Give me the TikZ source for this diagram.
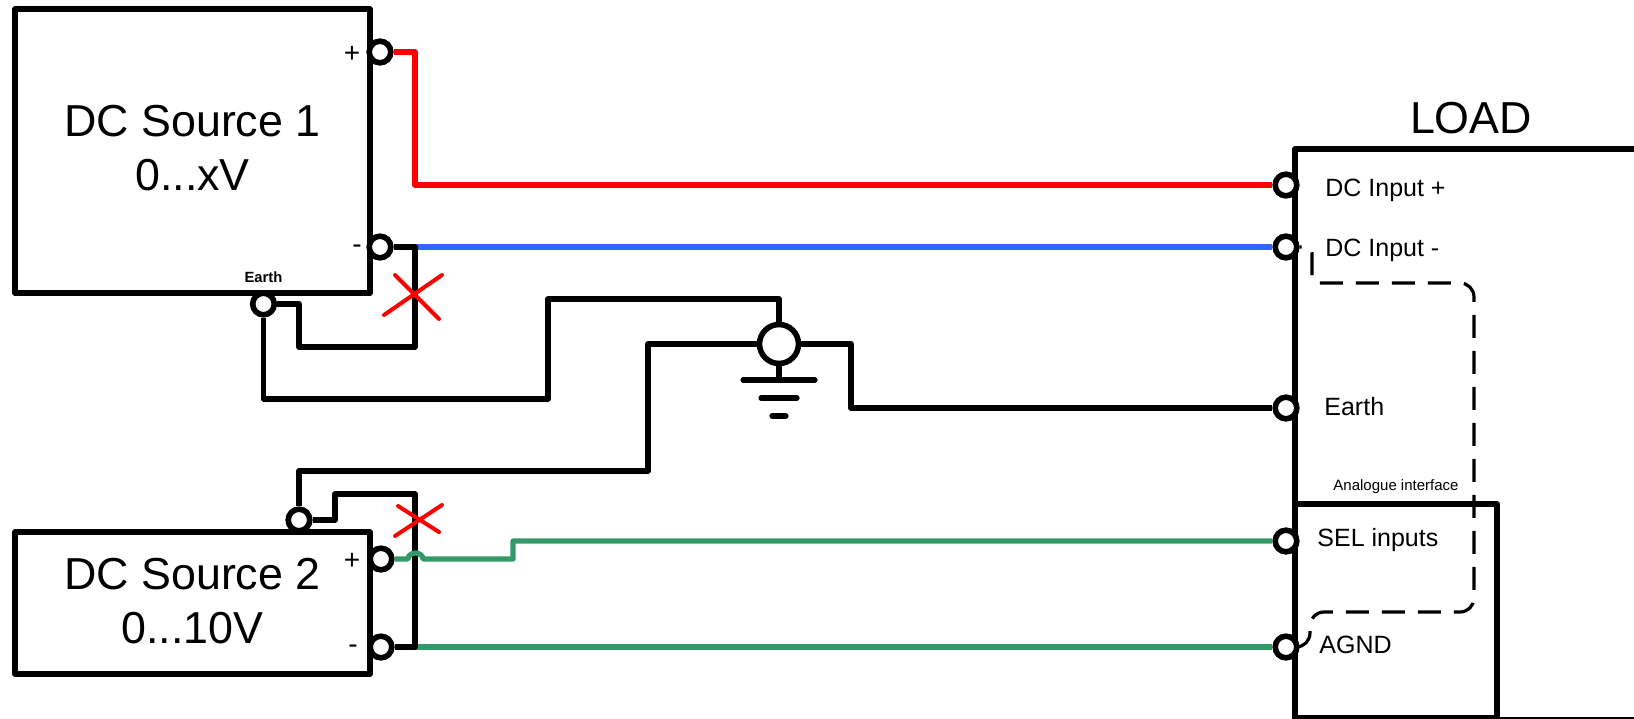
\documentclass[tikz,border=0pt]{standalone}
\usepackage{fontspec}
\setmainfont{Liberation Sans}
\usetikzlibrary{shapes,positioning}
\definecolor{wireblue}{RGB}{51,102,255}
\definecolor{wiregreen}{RGB}{51,153,102}
\tikzstyle{box}      = [draw, line width=2.6pt, line join=round, inner sep=0pt, align=center, font=\fontsize{22.4}{27}\selectfont]
\tikzstyle{term}     = [draw, circle, fill=white, line width=2.8pt, inner sep=0pt, minimum size=10.8pt]
\tikzstyle{lbl}      = [inner sep=0pt, font=\fontsize{12.5}{15}\selectfont]
\tikzstyle{sign}     = [inner sep=0pt, font=\fontsize{14}{15}\selectfont]
\tikzstyle{smalllbl} = [inner sep=0pt, font=\fontsize{7.5}{9}\selectfont]
\tikzstyle{wire}     = [draw, line width=2.6pt, line join=round]
\tikzstyle{redwire}  = [wire, color=red]
\tikzstyle{bluewire} = [wire, color=wireblue]
\tikzstyle{greenwire}= [wire, color=wiregreen]
\tikzstyle{cross}    = [draw, color=red, line width=2pt, line cap=round]
\tikzstyle{sense}    = [draw, line width=1.6pt, dash pattern=on 11.5pt off 6.5pt, dash phase=10.5pt]

\begin{document}
\begin{tikzpicture}[x=1pt, y=1pt]
	\clip (0,0) rectangle (817,-359);
	\useasboundingbox (0,0) rectangle (817,-359);
	% Boxes %
	\node [box, minimum width=177.5pt, minimum height=142pt] (src1) at (96.25,-75.5) {DC Source 1\\0...xV\rule[-3pt]{0pt}{0pt}};
	\node [box, node distance=226pt, below of = src1, minimum width=177.5pt, minimum height=71pt] (src2) {DC Source 2\\0...10V\rule[-2.5pt]{0pt}{0pt}};
	\node [box, minimum width=180pt, minimum height=285.5pt] (load) at (737.5,-217.25) {};
	\node [box, node distance=39.5pt, left of = load, yshift=-88.1pt, minimum width=101pt, minimum height=106.75pt] (ana) {};
	% Terminals %
	\node [term, node distance=93.75pt, right of = src1, yshift=49.5pt] (p1) {};
	\node [term, node distance=97.5pt, below of = p1] (m1) {};
	\node [term, node distance=76.5pt, below of = src1, xshift=35.5pt] (e1) {};
	\node [term, node distance=94.25pt, right of = src2, yshift=22pt] (p2) {};
	\node [term, node distance=44pt, below of = p2] (m2) {};
	\node [term, node distance=41.5pt, above of = src2, xshift=53.25pt] (e2) {};
	\node [term, node distance=94.5pt, left of = load, yshift=124.75pt] (inp) {};
	\node [term, node distance=31pt, below of = inp] (inm) {};
	\node [term, node distance=80.5pt, below of = inm] (ine) {};
	\node [term, node distance=66.5pt, below of = ine] (sel) {};
	\node [term, node distance=53pt, below of = sel] (agnd) {};
	\node [term, minimum size=19.5pt] (gnd) at (389.5,-172) {};
	% Labels %
	\node [sign, node distance=14pt, left of = p1, yshift=-1pt] (p1txt) {+};
	\node [sign, node distance=11.5pt, left of = m1, yshift=-1pt] (m1txt) {-};
	\node [sign, node distance=14.5pt, left of = p2, yshift=-1pt] (p2txt) {+};
	\node [sign, node distance=14pt, left of = m2, yshift=-1pt] (m2txt) {-};
	\node [smalllbl, node distance=13.5pt, above of = e1, font=\fontsize{7.4}{9}\selectfont\bfseries] (e1txt) {Earth};
	\node [lbl, node distance=19.5pt, right of = inp, anchor=west, yshift=-2.5pt] (inptxt) {DC Input +};
	\node [lbl, node distance=19.5pt, right of = inm, anchor=west, yshift=-1.5pt] (inmtxt) {DC Input -};
	\node [lbl, node distance=19pt, right of = ine, anchor=west, yshift=0.5pt] (inetxt) {Earth};
	\node [lbl, node distance=15.5pt, right of = sel, anchor=west, yshift=0.5pt] (seltxt) {SEL inputs};
	\node [lbl, node distance=16.5pt, right of = agnd, anchor=west, yshift=1pt] (agndtxt) {AGND};
	\node [smalllbl, node distance=62pt, above of = ana] (anatxt) {Analogue interface};
	\node [inner sep=0pt, node distance=158pt, above of = load, xshift=-2pt, font=\fontsize{22.4}{27}\selectfont] (loadtxt) {LOAD};
	% Bends %
	\coordinate (jp) at (207.5,-92.5);
	\coordinate (j2) at (207.5,-123.5);
	\coordinate (j3) at (207.5,-173.5);
	\coordinate (j4) at (149.5,-173.5);
	\coordinate (j5) at (274,-199.5);
	\coordinate (j6) at (274,-149.5);
	\coordinate (j7) at (324,-172);
	\coordinate (j8) at (324,-235.5);
	\coordinate (j9) at (425.5,-172);
	\coordinate (j10) at (167.5,-260);
	\coordinate (j11) at (167.5,-247);
	\coordinate (j12) at (207.5,-323.5);
	\coordinate (j13) at (204,-279.5);
	\coordinate (j14) at (256.5,-279.5);
	\coordinate (j15) at (256.5,-270.5);
	\coordinate (g1) at (389.5,-190);
	\coordinate (d1) at (656,-123.5);
	\coordinate (d2) at (656,-141.5);
	\coordinate (d3) at (737,-141.5);
	\coordinate (d4) at (737,-306);
	\coordinate (d5) at (655,-306);
	\coordinate (d6) at (655,-323.5);
	% Connection %
	\path [redwire] (p1) -| (jp) -- (inp);
	\path [bluewire] (j2) -- (inm);
	\path [greenwire] (j12) -- (agnd);
	\path [wire] (m1) -- (j2) -- (j3) -- (j4) |- (e1);
	\path [wire] (e1) |- (j5) -- (j6) -| (gnd);
	\path [wire] (gnd) -- (j7) -- (j8) -| (e2);
	\path [wire] (gnd) -- (j9) |- (ine);
	\path [wire] (e2) -- (j10) -- (j11) -| (j12) -- (m2);
	\path [greenwire] (p2) -- (j13) arc [start angle=180, end angle=0, x radius=3.75, y radius=3] -- (j14) -- (j15) -- (sel);
	\path [sense] (inm) [rounded corners=3pt] -- (d1) -- (d2) [rounded corners=7pt] -- (d3) -- (d4) -- (d5) -- (d6) -- (agnd);
	% Earth symbol %
	\path [wire] (gnd) -- (g1);
	\path [wire, line cap=round] (g1) ++(-18,0) -- ++(36,0);
	\path [wire, line cap=round] (g1) ++(-9,-9) -- ++(18,0);
	\path [wire, line cap=round] (g1) ++(-3.5,-18) -- ++(7,0);
	% Crosses %
	\path [cross] (197.5,-137.5) -- (219.5,-159.5);
	\path [cross] (221,-137.5) -- (192,-157.5);
	\path [cross] (199,-253) -- (219.5,-266);
	\path [cross] (221,-252.5) -- (197.5,-268);
\end{tikzpicture}
\end{document}
